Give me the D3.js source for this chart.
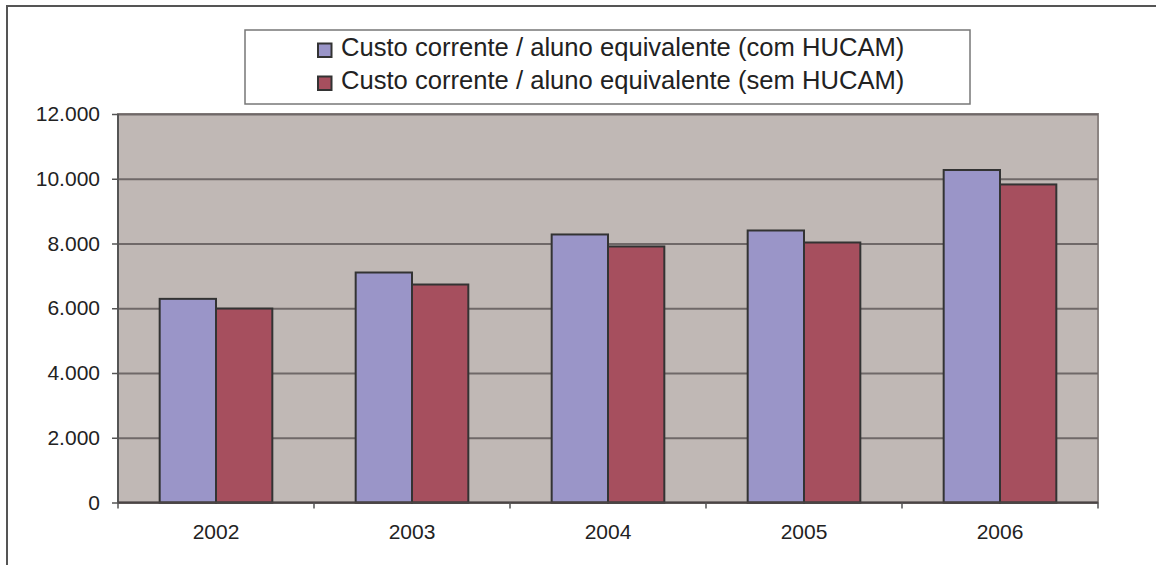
<!DOCTYPE html>
<html lang="pt">
<head>
<meta charset="utf-8">
<script src="https://d3js.org/d3.v7.min.js"></script>
<style>
  body { margin: 0px; background: #fff; }
  text { font-family: "Liberation Sans", Arial, sans-serif; fill: #222; }
  .domain { display: none; }
</style>
</head>
<body>
<svg width="1156" height="565"></svg>
<script>
// data
const years = ['2002', '2003', '2004', '2005', '2006'];
const seriesNames = [
  'Custo corrente / aluno equivalente (com HUCAM)',
  'Custo corrente / aluno equivalente (sem HUCAM)'
];
const comHucam = [6290, 7104, 8279, 8402, 10270];
const semHucam = [5990, 6733, 7908, 8031, 9824];
const yTicks = [0, 2000, 4000, 6000, 8000, 10000, 12000];
const colors = ['#9a95c8', '#a64f5e'];

const svg = d3.select('svg');
const margin = { left: 118, right: 58, top: 114, bottom: 62.5 };
const width = 1156 - margin.left - margin.right;
const height = 565 - margin.top - margin.bottom;

// outer frame (only top and left edges are in view)
svg.append('path')
  .attr('d', 'M7,565 V6 H1156')
  .attr('fill', 'none')
  .attr('stroke', '#555')
  .attr('stroke-width', 2);

const g = svg.append('g')
  .attr('transform', `translate(${margin.left},${margin.top})`);

const x0 = d3.scaleBand().domain(years).range([0, width]).padding(0);
const x1 = d3.scaleBand().domain([0, 1]).range([0, x0.bandwidth()])
  .paddingInner(0).paddingOuter(0.74);
const y = d3.scaleLinear().domain([0, 12000]).range([height, 0]);

// plot background
g.append('rect')
  .attr('width', width).attr('height', height)
  .attr('fill', '#c0b8b5')
  .attr('stroke', '#8c8482').attr('stroke-width', 2);

// y axis with gridlines
const fmt = d3.format(',');
const yAxisG = g.append('g').call(
  d3.axisLeft(y).tickValues(yTicks).tickSize(-width).tickPadding(18)
    .tickFormat(d => fmt(d).replace(/,/g, '.'))
);
yAxisG.selectAll('.tick line')
  .attr('stroke', '#6f6868').attr('stroke-width', 2);
yAxisG.selectAll('.tick text').attr('font-size', 21).attr('fill', '#222');
// small outside tick marks
yAxisG.selectAll('.tick').append('line')
  .attr('x1', -6).attr('x2', 0)
  .attr('stroke', '#555').attr('stroke-width', 1.5);

// bars
const data = years.map((yr, i) => ({ year: yr, vals: [comHucam[i], semHucam[i]] }));
const groups = g.selectAll('.grp').data(data).enter().append('g')
  .attr('transform', d => `translate(${x0(d.year)},0)`);
groups.selectAll('rect').data(d => d.vals).enter().append('rect')
  .attr('x', (d, i) => x1(i))
  .attr('y', d => y(d))
  .attr('width', x1.bandwidth())
  .attr('height', d => height - y(d))
  .attr('fill', (d, i) => colors[i])
  .attr('stroke', '#333')
  .attr('stroke-width', 2);

// axis lines
g.append('line').attr('x1', 0).attr('x2', 0).attr('y1', 0).attr('y2', height)
  .attr('stroke', '#555').attr('stroke-width', 2);

// x axis
const xAxisG = g.append('g').attr('transform', `translate(0,${height})`)
  .call(d3.axisBottom(x0).tickSize(0).tickPadding(22));
xAxisG.selectAll('.tick text').attr('font-size', 21).attr('fill', '#222');
g.append('line').attr('x1', 0).attr('x2', width).attr('y1', height).attr('y2', height)
  .attr('stroke', '#4a4444').attr('stroke-width', 2);
// category boundary ticks
g.selectAll('.xb').data(years.concat(['end'])).enter().append('line')
  .attr('x1', (d, i) => i * x0.step()).attr('x2', (d, i) => i * x0.step())
  .attr('y1', height).attr('y2', height + 6)
  .attr('stroke', '#555').attr('stroke-width', 1.5);

// legend
const lg = svg.append('g');
lg.append('rect')
  .attr('x', 245).attr('y', 30).attr('width', 725).attr('height', 74)
  .attr('fill', '#fff').attr('stroke', '#777').attr('stroke-width', 1.5);
seriesNames.forEach((name, i) => {
  const row = lg.append('g').attr('transform', `translate(318,${43.5 + i * 33})`);
  row.append('rect')
    .attr('width', 13.5).attr('height', 13.5)
    .attr('fill', colors[i]).attr('stroke', '#333').attr('stroke-width', 2);
  row.append('text')
    .attr('x', 23).attr('y', 12.5)
    .attr('font-size', 25.6)
    .text(name);
});
</script>
</body>
</html>
